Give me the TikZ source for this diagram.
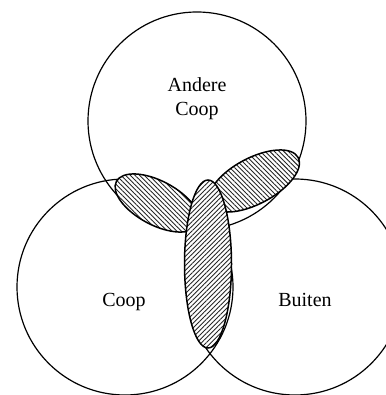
\documentclass[tikz,border=0pt]{standalone}
\usepackage{fontspec}
\setmainfont{Liberation Serif}
\usetikzlibrary{patterns.meta}
\tikzset{
  setcircle/.style={draw=black, line width=1.2pt},
  hatchA/.style={draw=black, line width=1.5pt, preaction={fill=white},
    pattern={Lines[angle=-45, distance=3.3pt, line width=0.9pt]}, pattern color=black!85},
  hatchB/.style={draw=black, line width=1.5pt, preaction={fill=white},
    pattern={Lines[angle=45, distance=3.3pt, line width=0.9pt]}, pattern color=black!85},
  lbl/.style={font=\fontsize{20}{24.5}\selectfont, inner sep=0pt}
}
\begin{document}
\begin{tikzpicture}[x=1pt, y=1pt]
\useasboundingbox (0,0) rectangle (385,395);
% circles
\draw[setcircle] (197,274) circle (109);
\draw[setcircle] (125,108) circle (108);
\draw[setcircle] (295,108) circle (108);
% hatched overlaps
\draw[hatchA, shift={(157,192)}, rotate=-28] (0,0) ellipse (46 and 22);
\draw[hatchA, shift={(254,214)}, rotate=28] (0,0) ellipse (50 and 23);
\draw[hatchB] (208,131) ellipse (23.5 and 84);
% labels
\node[lbl, align=center] (andere) at (197,296.5) {Andere\\Coop};
\node[lbl, anchor=base] (coop) at (124,88) {Coop};
\node[lbl, anchor=base] (buiten) at (305,88) {Buiten};
\end{tikzpicture}
\end{document}
